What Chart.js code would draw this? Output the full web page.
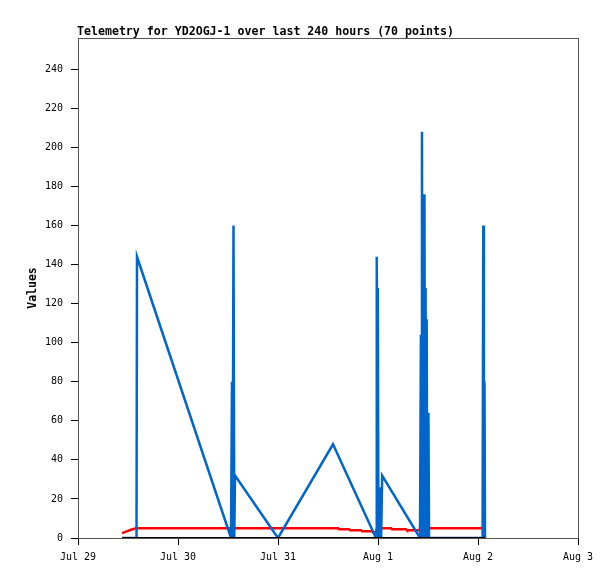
<!DOCTYPE html>
<html><head><meta charset="utf-8">
<script src="https://cdn.jsdelivr.net/npm/chart.js@4"></script>
<style>html,body{margin:0;padding:0;background:#fff}#wrap{width:615px;height:579px}</style>
</head><body><div id="wrap"><canvas id="c" width="615" height="579"></canvas></div>
<script>
const titleText = "Telemetry for YD2OGJ-1 over last 240 hours (70 points)";
const yTitle = "Values";
const xTickLabels = ["Jul 29", "Jul 30", "Jul 31", "Aug 1", "Aug 2", "Aug 3"];
// hours since Jul 29 00:00
const blueHours = [10.56, 14.04, 14.16, 36.72, 36.96, 37.10, 37.32, 37.50, 37.68, 48.00, 61.20, 71.52, 71.70, 71.85, 71.95, 72.10, 72.30, 72.45, 72.60, 72.75, 73.00, 82.08, 82.30, 82.42, 82.55, 82.68, 82.80, 82.95, 83.15, 83.30, 83.42, 83.55, 83.68, 83.82, 84.10, 84.25, 97.10, 97.27, 97.42, 97.56, 97.68];
const blueValues = [0, 0, 144, 0, 80, 0, 160, 0, 32, 0, 48, 0, 144, 0, 128, 0, 26, 0, 16, 0, 32, 0, 104, 0, 208, 0, 137, 0, 176, 0, 128, 0, 112, 0, 64, 0, 0, 160, 0, 80, 0];
const redHours = [10.56, 11.52, 12.72, 13.92, 62.40, 62.64, 65.04, 65.28, 67.92, 68.16, 70.56, 70.80, 71.52, 71.76, 75.12, 75.36, 78.72, 78.96, 81.84, 82.08, 97.68];
const redValues = [2.5, 3.3, 4.2, 5.0, 5.0, 4.5, 4.5, 4.0, 4.0, 3.5, 3.5, 3.0, 3.0, 5.0, 5.0, 4.5, 4.5, 4.0, 4.0, 5.0, 5.0];
const blackHours = [10.56, 97.68];
const blackValues = [0, 0];

const toPts = (xs, ys) => xs.map((x, i) => ({x: x, y: ys[i]}));
const MONO = "'DejaVu Sans Mono', 'Liberation Mono', monospace";

const framePlugin = {
  id: 'frame',
  beforeDatasetsDraw(chart) {
    const a = chart.chartArea, ctx = chart.ctx;
    ctx.save();
    ctx.strokeStyle = '#555';
    ctx.lineWidth = 1;
    ctx.strokeRect(a.left + 0.5, a.top + 0.5, a.right - a.left, a.bottom - a.top);
    ctx.restore();
  },
  afterDraw(chart) {
    const a = chart.chartArea, ctx = chart.ctx;
    ctx.save();
    ctx.fillStyle = '#000';
    ctx.font = "bold 11.6px " + MONO;
    ctx.textAlign = 'left';
    ctx.textBaseline = 'middle';
    ctx.fillText(titleText, a.left - 1, 31.5);
    ctx.restore();
  }
};

new Chart(document.getElementById('c'), {
  type: 'line',
  data: {
    datasets: [
      {data: toPts(blackHours, blackValues), borderColor: '#000', borderWidth: 2, pointRadius: 0, tension: 0},
      {data: toPts(blueHours, blueValues), borderColor: '#0066cc', borderWidth: 2.5, pointRadius: 0, tension: 0},
      {data: toPts(redHours, redValues), borderColor: '#ff0000', borderWidth: 2.5, pointRadius: 0, tension: 0}
    ]
  },
  options: {
    responsive: false,
    animation: false,
    devicePixelRatio: 1,
    layout: {padding: {left: 0, top: 38, right: 37, bottom: 0}},
    plugins: {legend: {display: false}, title: {display: false}, tooltip: {enabled: false}},
    scales: {
      x: {
        type: 'linear', min: 0, max: 120,
        afterFit(s) { s.height = 41; },
        ticks: {
          stepSize: 24, includeBounds: false, autoSkip: false, maxRotation: 0,
          font: {family: MONO, size: 10}, color: '#000', padding: 6,
          callback: (v) => xTickLabels[Math.round(v / 24)]
        },
        grid: {drawOnChartArea: false, drawTicks: true, tickLength: 7, color: '#000'},
        border: {color: '#000', width: 1}
      },
      y: {
        min: 0, max: 256,
        afterFit(s) { s.width = 78; },
        ticks: {stepSize: 20, includeBounds: false, font: {family: MONO, size: 10}, color: '#000', padding: 8},
        grid: {drawOnChartArea: false, drawTicks: true, tickLength: 7, color: '#000'},
        border: {color: '#000', width: 1},
        title: {display: true, text: yTitle, font: {family: MONO, size: 11.5, weight: 'bold'}, color: '#000', padding: {top: 26, bottom: 0}}
      }
    }
  },
  plugins: [framePlugin]
});
</script>
</body></html>
